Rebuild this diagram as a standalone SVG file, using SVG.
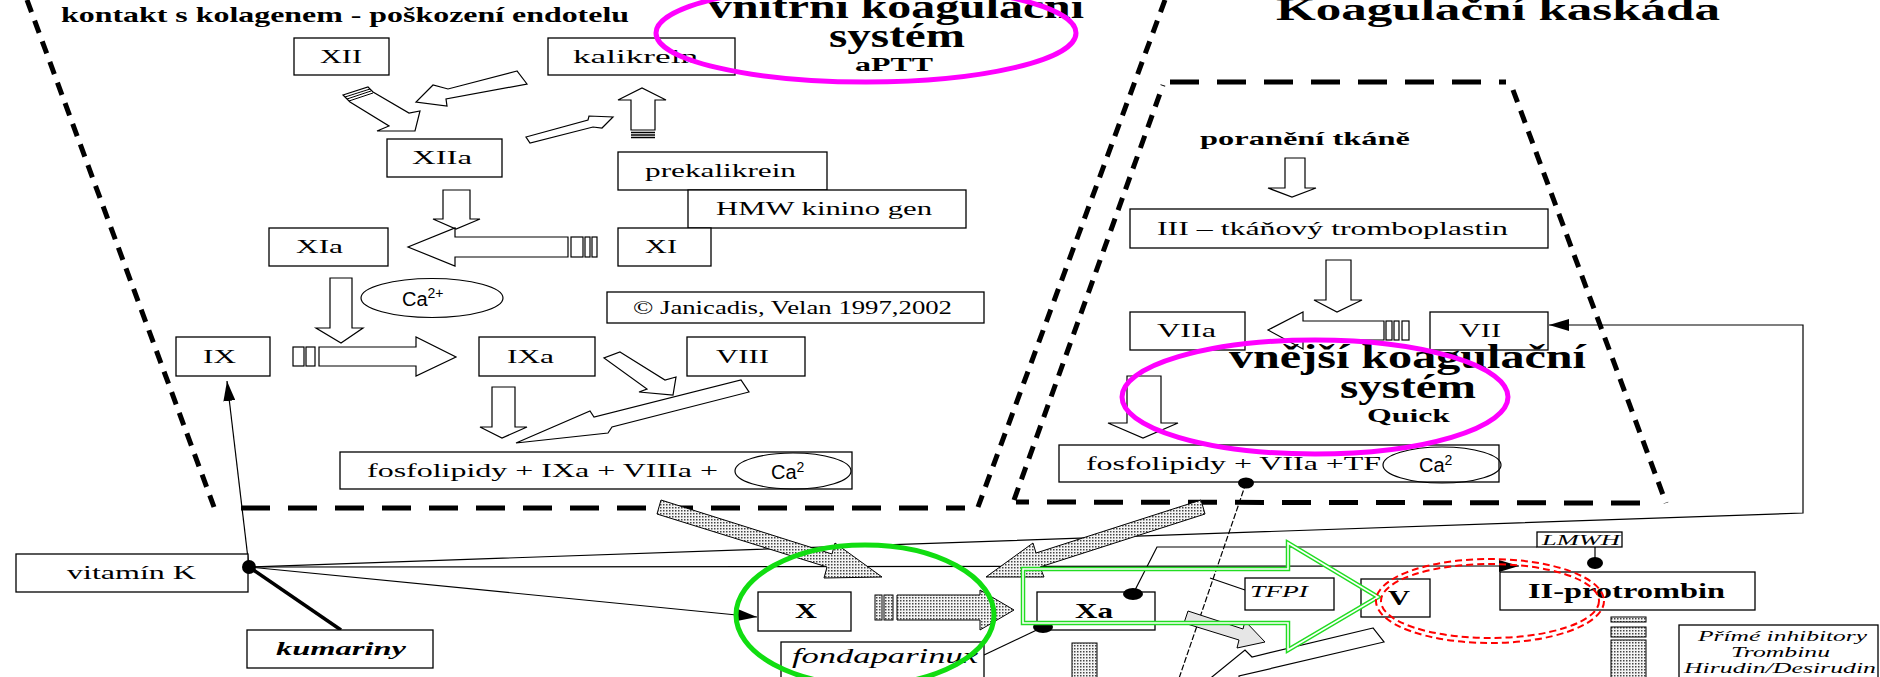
<svg xmlns="http://www.w3.org/2000/svg" width="1880" height="677" viewBox="0 0 1880 677">
<style>
.box{fill:#fff;stroke:#000;stroke-width:1.3}
.t{font-family:"Liberation Serif","Times New Roman",serif;font-size:19px;fill:#000}
.b{font-weight:bold}
.i{font-style:italic}
.s{font-family:"Liberation Sans",Arial,sans-serif;font-size:20px;fill:#000}
.blk{fill:#fff;stroke:#000;stroke-width:1.2}
.stip{fill:url(#dots);stroke:#000;stroke-width:1}
.dsl{fill:none;stroke:#000;stroke-width:5;stroke-dasharray:13 9}
.dhz{fill:none;stroke:#000;stroke-width:5;stroke-dasharray:29 18}
.conn{fill:none;stroke:#000;stroke-width:1.2}
.dot{fill:#000}
</style>
<defs>
<pattern id="dots" width="3" height="3" patternUnits="userSpaceOnUse"><rect width="3" height="3" fill="#f4f4f4"/><rect width="1.5" height="1.5" fill="#444"/></pattern>
<marker id="ah" markerUnits="userSpaceOnUse" markerWidth="22" markerHeight="12" refX="20" refY="6" orient="auto"><path d="M0,0 L20,6 L0,12 z" fill="#000"/></marker>
</defs>
<rect width="1880" height="677" fill="#fff"/>

<g id="regions">
<path class="dsl" d="M27,0 L214,507"/>
<path class="dhz" d="M241,508 L965,508"/>
<path class="dsl" d="M1165,0 L978,507"/>
<path class="dsl" d="M1014,500 L1163,85"/>
<path class="dhz" d="M1170,82 L1506,82"/>
<path class="dsl" d="M1513,90 L1666,503"/>
<path class="dhz" d="M1640,503 L1016,502"/>
</g>

<g id="connectors">
<path class="conn" d="M249,567 L227,381" marker-end="url(#ah)"/>
<path class="conn" d="M249,567 L1803,513 L1803,325 L1549,325" marker-end="url(#ah)"/>
<path class="conn" d="M249,567 L1519,566" marker-end="url(#ah)"/>
<path class="conn" d="M249,567 L757,617" marker-end="url(#ah)"/>
<path d="M249,567 L341,630" fill="none" stroke="#000" stroke-width="3.5"/>
<path class="conn" d="M1133,594 L1157,547 L1537,547"/>
<path class="conn" d="M1595,547 L1595,563"/>
<path class="conn" d="M984,655 L1043,627"/>
<path class="conn" d="M1246,483 L1175,690" stroke-dasharray="6 2"/>
<path class="conn" d="M1245,590 L1210,578"/>
</g>

<g id="arrows">
<polygon class="blk" points="343,95 368,87 373,92 409,113 420,111 415,131 377,131 389,126 350,102"/>
<path d="M345,97 L370,89 M347,99 L371,91 M349,101 L373,93" stroke="#000" stroke-width="1"/>
<polygon class="blk" points="517,71 448,89 433,85 416,102 447,106 446,99 527,84"/>
<polygon class="blk" points="526,137 588,120 589,116 613,117 602,128 593,127 530,143"/>
<polygon class="blk" points="631,130 631,100 618,100 642,88 666,100 655,100 655,130"/>
<path d="M631,132.5 H655 M631,135 H655 M631,137.5 H655" stroke="#000" stroke-width="1.3"/>
<polygon class="blk" points="443,190 470,190 470,219 480,219 456,229 433,219 443,219"/>
<polygon class="blk" points="568,237 455,237 455,228 408,247 455,266 455,257 568,257"/>
<rect class="blk" x="571" y="237" width="12" height="20"/>
<rect class="blk" x="585" y="237" width="5" height="20"/>
<rect class="blk" x="592" y="237" width="5" height="20"/>
<polygon class="blk" points="330,278 352,278 352,328 363,328 341,343 316,328 330,328"/>
<rect class="blk" x="293" y="347" width="11" height="19"/>
<rect class="blk" x="306" y="347" width="9" height="19"/>
<polygon class="blk" points="319,347 416,347 416,337 456,357 416,376 416,366 319,366"/>
<polygon class="blk" points="492,387 515,387 515,427 527,427 502,438 480,427 492,427"/>
<polygon class="blk" points="620,352 665,380 676,377 673,395 639,392 647,389 604,358"/>
<polygon class="blk" points="516,443 590,411 594,417 741,380 749,392 612,427 608,433"/>
<polygon class="blk" points="1285,158 1305,158 1305,188 1316,188 1292,197 1268,188 1285,188"/>
<polygon class="blk" points="1326,260 1351,260 1351,300 1362,300 1337,312 1314,300 1326,300"/>
<polygon class="blk" points="1384,321 1303,321 1303,312 1268,330 1303,349 1303,340 1384,340"/>
<rect class="blk" x="1386" y="321" width="6" height="19"/>
<rect class="blk" x="1394" y="321" width="5" height="19"/>
<rect class="blk" x="1402" y="321" width="7" height="19"/>
<polygon class="blk" points="1127,376 1161,376 1161,423 1178,423 1143,438 1108,423 1127,423"/>
<polygon class="stip" points="661,500 832,554 835,543 882,577 824,578 827,567 657,514"/>
<polygon class="stip" points="1201,500 1036,553 1033,543 986,577 1044,577 1040,567 1205,514"/>
<rect class="stip" x="875" y="595" width="7" height="25"/>
<rect class="stip" x="884" y="595" width="9" height="25"/>
<polygon class="stip" points="897,595 980,595 980,590 1014,610 980,630 980,620 897,620"/>
<rect class="stip" x="1072" y="643" width="25" height="40"/>
<rect class="stip" x="1611" y="617" width="35" height="5"/>
<rect class="stip" x="1611" y="627" width="35" height="10"/>
<rect class="stip" x="1611" y="640" width="35" height="40"/>
<polygon fill="#e6e6e6" stroke="#000" stroke-width="1" points="1188,611 1243,629 1245,621 1265,642 1237,648 1239,640 1184,623"/>
<polygon class="blk" points="1373,628 1252,657 1245,650 1196,690 1240,690 1239,676 1384,642"/>
</g>

<g id="n-XII"><rect class="box" x="294" y="38" width="95" height="37"/><text class="t" x="320" y="63" textLength="42" lengthAdjust="spacingAndGlyphs">XII</text></g>
<g id="n-kalikrein"><rect class="box" x="548" y="38" width="187" height="37"/><text class="t" x="573" y="63" textLength="125" lengthAdjust="spacingAndGlyphs">kalikrein</text></g>
<g id="n-XIIa"><rect class="box" x="387" y="139" width="115" height="38"/><text class="t" x="412" y="164" textLength="60" lengthAdjust="spacingAndGlyphs">XIIa</text></g>
<g id="n-prekalikrein"><rect class="box" x="618" y="152" width="209" height="38"/><text class="t" x="645" y="177" textLength="151" lengthAdjust="spacingAndGlyphs">prekalikrein</text></g>
<g id="n-HMW"><rect class="box" x="688" y="190" width="278" height="38"/><text class="t" x="716" y="215" textLength="216" lengthAdjust="spacingAndGlyphs">HMW kinino gen</text></g>
<g id="n-XI"><rect class="box" x="618" y="228" width="93" height="38"/><text class="t" x="645" y="253" textLength="32" lengthAdjust="spacingAndGlyphs">XI</text></g>
<g id="n-XIa"><rect class="box" x="269" y="228" width="119" height="38"/><text class="t" x="296" y="253" textLength="47" lengthAdjust="spacingAndGlyphs">XIa</text></g>
<g id="n-copyright"><rect class="box" x="607" y="292" width="377" height="31"/><text class="t" x="633" y="314" style="font-size:18px" textLength="319" lengthAdjust="spacingAndGlyphs">© Janicadis, Velan 1997,2002</text></g>
<g id="n-Ca2plus"><ellipse cx="432" cy="298" rx="71" ry="19.5" fill="#fff" stroke="#000" stroke-width="1.2"/><text class="s" x="402" y="306">Ca<tspan font-size="14" dy="-8">2+</tspan></text></g>
<g id="n-IX"><rect class="box" x="176" y="337" width="94" height="39"/><text class="t" x="203" y="363" textLength="33" lengthAdjust="spacingAndGlyphs">IX</text></g>
<g id="n-IXa"><rect class="box" x="479" y="337" width="116" height="39"/><text class="t" x="507" y="363" textLength="47" lengthAdjust="spacingAndGlyphs">IXa</text></g>
<g id="n-VIII"><rect class="box" x="687" y="337" width="118" height="39"/><text class="t" x="716" y="363" textLength="53" lengthAdjust="spacingAndGlyphs">VIII</text></g>
<g id="n-fosfoIXa"><rect class="box" x="340" y="452" width="512" height="37"/><text class="t" x="367" y="477" textLength="351" lengthAdjust="spacingAndGlyphs">fosfolipidy + IXa + VIIIa +</text><ellipse cx="793" cy="471" rx="58" ry="18" fill="none" stroke="#000" stroke-width="1.2"/><text class="s" x="771" y="479">Ca<tspan font-size="14" dy="-7">2</tspan></text></g>
<g id="n-vitaminK"><rect class="box" x="16" y="554" width="232" height="38"/><text class="t" x="67" y="579" textLength="129" lengthAdjust="spacingAndGlyphs">vitamín K</text></g>
<g id="n-kumariny"><rect class="box" x="247" y="630" width="186" height="38"/><text class="t b i" x="276" y="655" textLength="130" lengthAdjust="spacingAndGlyphs">kumariny</text></g>
<g id="n-X"><rect class="box" x="758" y="592" width="93" height="39"/><text class="t b" x="795" y="618" style="font-size:21px" textLength="22" lengthAdjust="spacingAndGlyphs">X</text></g>
<g id="n-fondaparinux"><rect class="box" x="781" y="642" width="203" height="45"/><text class="t i" x="792" y="663" style="font-size:21px" textLength="186" lengthAdjust="spacingAndGlyphs">fondaparinux</text></g>
<g id="n-Xa"><rect class="box" x="1037" y="592" width="118" height="38"/><text class="t b" x="1075" y="618" style="font-size:21px" textLength="38" lengthAdjust="spacingAndGlyphs">Xa</text></g>
<g id="n-TFPI"><rect class="box" x="1245" y="578" width="89" height="32"/><text class="t i" x="1250" y="597" style="font-size:17px" textLength="58" lengthAdjust="spacingAndGlyphs">TFPI</text></g>
<g id="n-V"><rect class="box" x="1361" y="579" width="69" height="38"/><text class="t b" x="1388" y="605" style="font-size:21px" textLength="22" lengthAdjust="spacingAndGlyphs">V</text></g>
<g id="n-LMWH"><rect class="box" x="1537" y="532" width="85" height="15"/><text class="t i" x="1542" y="545" style="font-size:15px" textLength="78" lengthAdjust="spacingAndGlyphs">LMWH</text></g>
<g id="n-II"><rect class="box" x="1500" y="572" width="255" height="38"/><text class="t b" x="1528" y="598" style="font-size:21px" textLength="197" lengthAdjust="spacingAndGlyphs">II-protrombin</text></g>
<g id="n-prime"><rect class="box" x="1679" y="625" width="199" height="62"/><text class="t i" style="font-size:14px" x="1698" y="641" textLength="169" lengthAdjust="spacingAndGlyphs">Přímé inhibitory</text><text class="t i" style="font-size:14px" x="1731" y="657" textLength="99" lengthAdjust="spacingAndGlyphs">Trombinu</text><text class="t i" style="font-size:14px" x="1684" y="673" textLength="192" lengthAdjust="spacingAndGlyphs">Hirudin/Desirudin</text></g>
<g id="n-III"><rect class="box" x="1130" y="209" width="418" height="39"/><text class="t" x="1157" y="235" textLength="351" lengthAdjust="spacingAndGlyphs">III – tkáňový tromboplastin</text></g>
<g id="n-VIIa"><rect class="box" x="1130" y="312" width="115" height="38"/><text class="t" x="1157" y="337" textLength="59" lengthAdjust="spacingAndGlyphs">VIIa</text></g>
<g id="n-VII"><rect class="box" x="1430" y="312" width="118" height="38"/><text class="t" x="1459" y="337" textLength="42" lengthAdjust="spacingAndGlyphs">VII</text></g>
<g id="n-fosfoVIIa"><rect class="box" x="1059" y="445" width="440" height="37"/><text class="t" x="1086" y="470" textLength="295" lengthAdjust="spacingAndGlyphs">fosfolipidy + VIIa +TF</text><ellipse cx="1442" cy="465" rx="59" ry="18" fill="none" stroke="#000" stroke-width="1.2"/><text class="s" x="1419" y="472">Ca<tspan font-size="14" dy="-7">2</tspan></text></g>

<g id="dots">
<circle class="dot" cx="249" cy="567" r="7"/>
<ellipse class="dot" cx="1246" cy="483" rx="8" ry="5.5"/>
<ellipse class="dot" cx="1133" cy="594" rx="10" ry="6"/>
<ellipse class="dot" cx="1043" cy="627" rx="10" ry="6"/>
<ellipse class="dot" cx="1595" cy="563" rx="8" ry="6"/>
</g>

<g id="titles">
<text class="t b" x="61" y="22" style="font-size:21px" textLength="568" lengthAdjust="spacingAndGlyphs">kontakt s kolagenem - poškození endotelu</text>
<text class="t b" x="708" y="18" style="font-size:33px" textLength="376" lengthAdjust="spacingAndGlyphs">vnitřní koagulační</text>
<text class="t b" x="829" y="47" style="font-size:33px" textLength="136" lengthAdjust="spacingAndGlyphs">systém</text>
<text class="t b" x="855" y="71" style="font-size:18px" textLength="78" lengthAdjust="spacingAndGlyphs">aPTT</text>
<text class="t b" x="1276" y="20" style="font-size:32px" textLength="444" lengthAdjust="spacingAndGlyphs">Koagulační kaskáda</text>
<text class="t b" x="1200" y="145" style="font-size:19px" textLength="210" lengthAdjust="spacingAndGlyphs">poranění tkáně</text>
<text class="t b" x="1229" y="368" style="font-size:33px" textLength="357" lengthAdjust="spacingAndGlyphs">vnější koagulační</text>
<text class="t b" x="1340" y="398" style="font-size:33px" textLength="136" lengthAdjust="spacingAndGlyphs">systém</text>
<text class="t b" x="1367" y="422" style="font-size:18px" textLength="83" lengthAdjust="spacingAndGlyphs">Quick</text>
</g>

<g id="highlights">
<ellipse cx="866" cy="33" rx="210" ry="49" fill="none" stroke="#ff00ff" stroke-width="5"/>
<ellipse cx="1315" cy="397" rx="193" ry="57" fill="none" stroke="#ff00ff" stroke-width="5"/>
<ellipse cx="865" cy="615" rx="129" ry="70" fill="none" stroke="#11dd11" stroke-width="5"/>
<polygon points="1023,569 1288,569 1288,543 1378,597 1288,650 1288,623 1023,623" fill="none" stroke="#22dd22" stroke-width="4.5"/>
<polygon points="1023,569 1288,569 1288,543 1378,597 1288,650 1288,623 1023,623" fill="none" stroke="#fff" stroke-width="1.6"/>
<ellipse cx="1490" cy="601" rx="114" ry="42" fill="none" stroke="#ff0000" stroke-width="2" stroke-dasharray="7 4"/>
<ellipse cx="1490" cy="601" rx="109" ry="37" fill="none" stroke="#ff0000" stroke-width="2" stroke-dasharray="7 4"/>
</g>
</svg>
